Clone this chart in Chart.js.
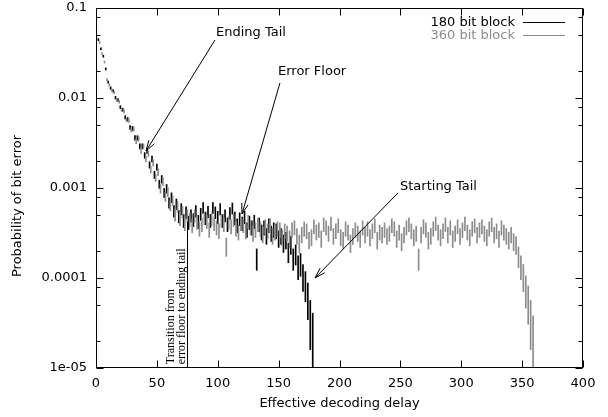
<!DOCTYPE html>
<html>
<head>
<meta charset="utf-8">
<script src="https://cdn.jsdelivr.net/npm/chart.js@4.4.0/dist/chart.umd.min.js"></script>
<style>
  html, body { margin: 0; padding: 0; background: #fff; }
</style>
</head>
<body>
<canvas id="myChart" width="608" height="417"></canvas>
<script>
// 360 bit block, one value every 2 steps of delay starting at 1
const start360 = 1;
const prob360 = [
  0.045, 0.041, 0.031, 0.025, 0.016, 0.0140, 0.0122, 0.0115, 0.0095, 0.0091,
  0.0074, 0.0071, 0.0057, 0.0056, 0.0044, 0.0045, 0.0033, 0.0035,
  0.0026, 0.0029, 0.0021, 0.0024, 0.0016, 0.0019, 0.0013, 0.0015, 0.00098, 0.00118,
  0.00080, 0.00090, 0.00064, 0.00072, 0.00050, 0.00062, 0.00045, 0.00054, 0.00040, 0.00049,
  4.4e-4, 3.8e-4, 4.9e-4, 4.1e-4, 3.5e-4, 3.9e-4, 4.6e-4, 4.2e-4, 3.4e-4, 4.5e-4,
  4.0e-4, 3.6e-4, 3.3e-4, 4.3e-4, 3.9e-4, 2.2e-4, 4.1e-4, 3.7e-4, 4.4e-4, 3.5e-4,
  3.2e-4, 4.0e-4, 3.8e-4, 3.3e-4, 4.2e-4, 3.6e-4, 3.1e-4, 3.4e-4, 3.9e-4, 3.5e-4,
  3.0e-4, 3.7e-4, 3.3e-4, 3.8e-4, 2.9e-4, 3.2e-4, 3.5e-4, 3.4e-4, 2.8e-4, 3.3e-4,
  3.1e-4, 2.7e-4, 3.4e-4, 3.6e-4, 2.9e-4, 2.4e-4, 3.0e-4, 3.5e-4, 3.3e-4, 2.6e-4,
  2.8e-4, 3.7e-4, 3.2e-4, 3.4e-4, 2.7e-4, 3.9e-4, 3.6e-4, 3.1e-4, 4.0e-4, 2.9e-4,
  3.3e-4, 3.8e-4, 2.8e-4, 2.6e-4, 3.5e-4, 3.2e-4, 2.4e-4, 2.9e-4, 3.4e-4, 3.1e-4,
  2.7e-4, 3.6e-4, 3.0e-4, 3.5e-4, 2.8e-4, 3.3e-4, 3.8e-4, 2.6e-4, 3.2e-4, 3.0e-4,
  3.4e-4, 2.9e-4, 3.1e-4, 3.8e-4, 3.5e-4, 2.7e-4, 3.2e-4, 2.5e-4, 3.0e-4, 3.6e-4,
  3.9e-4, 3.3e-4, 2.8e-4, 3.1e-4, 1.6e-4, 3.0e-4, 3.7e-4, 3.4e-4, 2.6e-4, 2.9e-4,
  3.5e-4, 4.0e-4, 3.2e-4, 2.8e-4, 3.3e-4, 3.9e-4, 3.0e-4, 3.6e-4, 2.7e-4, 3.1e-4,
  3.7e-4, 2.9e-4, 3.4e-4, 4.0e-4, 3.2e-4, 2.8e-4, 3.5e-4, 3.8e-4, 3.0e-4, 3.4e-4,
  3.7e-4, 3.1e-4, 2.8e-4, 3.5e-4, 3.9e-4, 3.0e-4, 3.3e-4, 2.7e-4, 3.6e-4, 3.2e-4,
  2.9e-4, 2.6e-4,
  3.0e-4, 2.5e-4, 2.3e-4, 1.7e-4, 1.3e-4, 1.0e-4, 7e-5, 5e-5, 3e-5, 1.6e-5
];

// 180 bit block, one value every 2 steps of delay starting at 2
const start180 = 2;
const prob180 = [
  0.044, 0.035, 0.029, 0.021, 0.0150, 0.0129, 0.0120, 0.0101, 0.0095, 0.0079,
  0.0074, 0.0061, 0.0058, 0.0047, 0.0046, 0.0036, 0.0036, 0.0029,
  0.0029, 0.0023, 0.0026, 0.0018, 0.0021, 0.0014, 0.0017, 0.0011, 0.00125, 0.00088,
  0.00098, 0.00068, 0.00078, 0.00055, 0.00066, 0.00048, 0.00058, 0.00043, 0.00053, 0.00041,
  4.9e-4, 4.4e-4, 5.5e-4, 4.2e-4, 5.1e-4, 6.0e-4, 4.6e-4, 5.4e-4, 4.3e-4, 6.0e-4,
  5.3e-4, 4.7e-4, 5.8e-4, 4.3e-4, 4.9e-4, 3.9e-4, 5.2e-4, 5.9e-4, 4.6e-4, 3.8e-4,
  4.5e-4, 4.0e-4, 4.7e-4, 3.4e-4, 4.1e-4, 3.6e-4, 4.2e-4, 1.6e-4, 3.9e-4, 3.2e-4,
  3.6e-4, 2.9e-4, 3.8e-4, 3.1e-4, 3.4e-4, 3.3e-4, 2.7e-4,
  2.9e-4, 2.4e-4, 2.6e-4, 1.9e-4, 2.3e-4, 1.6e-4, 1.8e-4, 1.3e-4, 1.4e-4, 1.0e-4,
  8e-5, 5.5e-5, 3e-5, 1.8e-5
];

const xTicks = [0, 50, 100, 150, 200, 250, 300, 350, 400];
const yTicks = [1e-5, 1e-4, 1e-3, 1e-2, 1e-1];
const yTickLabels = ['1e-05', '0.0001', '0.001', '0.01', '0.1'];
const yMinor = [2, 5, 8];

// error bar half height in decades shrinks with the probability
const ERR_K = 0.0015;
function errorBars(values, start) {
    return values.map((p, i) => {
        const h = ERR_K / Math.sqrt(p);
        return { x: start + 2 * i, y: [p / Math.pow(10, h), p * Math.pow(10, h)] };
    });
}

const FONT = '"DejaVu Sans", sans-serif';

// the gnuplot look: frame, inward ticks, legend, arrows and titles
const decoration = {
    id: 'decoration',
    afterDraw(chart) {
        const { ctx, chartArea: a, scales: { x, y } } = chart;
        const line = (x1, y1, x2, y2) => {
            ctx.beginPath(); ctx.moveTo(x1, y1); ctx.lineTo(x2, y2); ctx.stroke();
        };
        ctx.save();
        ctx.strokeStyle = '#000';
        ctx.lineWidth = 1;
        const L = Math.round(a.left) + 0.5, R = Math.round(a.right) - 0.5;
        const T = Math.round(a.top) + 0.5, B = Math.round(a.bottom) - 0.5;
        ctx.strokeRect(L, T, R - L, B - T);

        xTicks.forEach(v => {
            const px = Math.round(x.getPixelForValue(v)) + 0.5;
            line(px, B, px, B - 7);
            line(px, T, px, T + 7);
        });
        yTicks.forEach(v => {
            const py = Math.round(y.getPixelForValue(v)) + 0.5;
            line(L, py, L + 7, py);
            line(R, py, R - 7, py);
        });
        yTicks.slice(0, -1).forEach(d => {
            yMinor.forEach(m => {
                const py = Math.round(y.getPixelForValue(d * m)) + 0.5;
                line(L, py, L + 4, py);
                line(R, py, R - 4, py);
            });
        });

        // legend
        ctx.font = '13px ' + FONT;
        ctx.textAlign = 'right';
        ctx.textBaseline = 'middle';
        chart.data.datasets.forEach((ds, i) => {
            const yy = 22.5 + 13 * i;
            ctx.fillStyle = ds.backgroundColor;
            ctx.strokeStyle = ds.backgroundColor;
            ctx.fillText(ds.label, a.right - 68, yy);
            line(a.right - 60, yy, a.right - 18, yy);
        });

        // arrows with labels
        ctx.strokeStyle = '#000';
        ctx.fillStyle = '#000';
        ctx.textAlign = 'left';
        const notes = [
            { text: 'Ending Tail', at: [98.6, 0.0527], from: [97.7, 0.044], to: [41.1, 0.00258] },
            { text: 'Error Floor', at: [149.5, 0.0195], from: [151.1, 0.0147], to: [119.9, 5.14e-4] },
            { text: 'Starting Tail', at: [249.7, 0.00103], from: [248, 8.8e-4], to: [179.9, 1.0e-4] }
        ];
        notes.forEach(n => {
            ctx.fillText(n.text, x.getPixelForValue(n.at[0]), y.getPixelForValue(n.at[1]));
            const x1 = x.getPixelForValue(n.from[0]), y1 = y.getPixelForValue(n.from[1]);
            const x2 = x.getPixelForValue(n.to[0]), y2 = y.getPixelForValue(n.to[1]);
            line(x1, y1, x2, y2);
            const ang = Math.atan2(y1 - y2, x1 - x2);
            [-0.3, 0.3].forEach(d => {
                line(x2, y2, x2 + 11 * Math.cos(ang + d), y2 + 11 * Math.sin(ang + d));
            });
        });

        // transition marker
        const tx = Math.round(x.getPixelForValue(75)) + 0.5;
        line(tx, B, tx, y.getPixelForValue(4.2e-4));
        ctx.save();
        ctx.font = '12px "Liberation Serif", serif';
        ctx.translate(tx, y.getPixelForValue(1.1e-5));
        ctx.rotate(-Math.PI / 2);
        ctx.fillText('Transition from', 0, -17);
        ctx.fillText('error floor to ending tail', 0, -6);
        ctx.restore();

        // axis titles
        ctx.font = '13px ' + FONT;
        ctx.textAlign = 'center';
        ctx.fillText('Effective decoding delay', (a.left + a.right) / 2, 404);
        ctx.save();
        ctx.translate(17.5, 206);
        ctx.rotate(-Math.PI / 2);
        ctx.fillText('Probability of bit error', 0, 0);
        ctx.restore();
        ctx.restore();
    }
};

const ctx = document.getElementById('myChart').getContext('2d');
const myChart = new Chart(ctx, {
    type: 'bar',
    data: {
        datasets: [{
            label: '180 bit block',
            data: errorBars(prob180, start180),
            backgroundColor: '#000000',
            order: 1
        }, {
            label: '360 bit block',
            data: errorBars(prob360, start360),
            backgroundColor: '#8c8c8c',
            order: 0
        }]
    },
    options: {
        responsive: false,
        animation: false,
        devicePixelRatio: 1,
        layout: { padding: { top: 8, right: 25, left: 0, bottom: 0 } },
        datasets: { bar: { barThickness: 1, minBarLength: 2, grouped: false } },
        plugins: { legend: { display: false }, tooltip: { enabled: false } },
        scales: {
            x: {
                type: 'linear', min: 0, max: 400, offset: false,
                grid: { display: false, drawTicks: false }, border: { display: false },
                ticks: { stepSize: 50, color: '#000', padding: 8, maxRotation: 0, font: { family: FONT, size: 13 } },
                afterFit: s => { s.height = 49; s.paddingLeft = 0; s.paddingRight = 0; }
            },
            y: {
                type: 'logarithmic', min: 1e-5, max: 0.1,
                grid: { display: false, drawTicks: false }, border: { display: false },
                afterBuildTicks: s => { s.ticks = yTicks.map(v => ({ value: v })); },
                ticks: {
                    color: '#000', padding: 9, font: { family: FONT, size: 13 },
                    callback: (v, i) => yTickLabels[i]
                },
                afterFit: s => { s.width = 96; s.paddingTop = 0; s.paddingBottom = 0; }
            }
        }
    },
    plugins: [decoration]
});
</script>
</body>
</html>
